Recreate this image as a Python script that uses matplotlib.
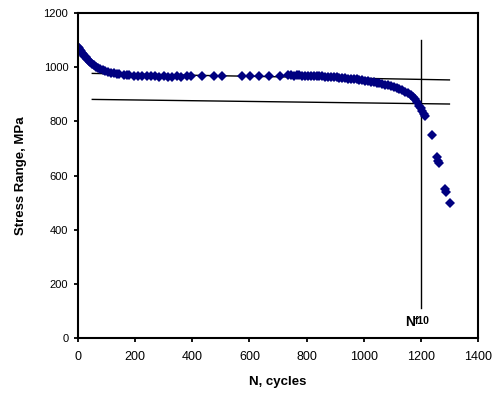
import numpy as np
import matplotlib
matplotlib.use('Agg')
import matplotlib.pyplot as plt

plt.rcParams['font.family'] = ['Liberation Sans', 'DejaVu Sans']

# measured stress range vs cycles
cycles = [0, 3, 6, 10, 14, 18, 22, 27, 32, 37, 43, 49, 55, 62, 70, 78, 86, 95,
          105, 115, 125, 135, 145, 160, 170, 180, 195, 210, 225, 240, 255, 270,
          285, 300, 315, 330, 345, 360, 380, 395, 433, 476, 503, 573, 602, 634,
          668, 707, 735, 745, 755, 765, 775, 785, 795, 805, 815, 825, 835, 845,
          855, 865, 875, 885, 895, 905, 915, 925, 935, 945, 955, 965, 975, 985,
          995, 1005, 1015, 1025, 1035, 1045, 1055, 1065, 1075, 1085, 1095, 1105,
          1115, 1125, 1135, 1145, 1155, 1165, 1172, 1180, 1188, 1195, 1200, 1205,
          1210, 1215, 1238, 1256, 1259, 1262, 1286, 1289, 1302]
stress = [1075, 1070, 1065, 1060, 1052, 1047, 1042, 1036, 1030, 1024, 1018, 1012,
          1007, 1002, 997, 993, 990, 986, 983, 980, 977, 975, 973, 971, 972, 970,
          969, 968, 968, 967, 966, 966, 965, 966, 965, 964, 966, 965, 967, 966,
          966, 966, 967, 967, 967, 968, 968, 969, 970, 970, 969, 970, 970, 969,
          968, 969, 968, 968, 967, 966, 966, 965, 964, 964, 963, 962, 961, 960,
          960, 958, 957, 956, 955, 953, 952, 950, 948, 946, 945, 943, 941, 939,
          936, 933, 930, 927, 923, 919, 914, 908, 903, 897, 890, 882, 870, 858,
          848, 838, 828, 820, 748, 668, 655, 645, 550, 540, 497]

# reference lines
upper_x = [50, 1300]
upper_y = [977, 953]
lower_x = [50, 1300]
lower_y = [881, 864]
nf10_x = [1200, 1200]
nf10_y = [110, 1100]

fig = plt.figure(figsize=(5, 3.97), dpi=100)
ax = fig.add_axes([0.156, 0.1486, 0.80, 0.8186])

ax.plot(upper_x, upper_y, color='black', lw=1.0, zorder=1)
ax.plot(lower_x, lower_y, color='black', lw=1.0, zorder=1)
ax.plot(nf10_x, nf10_y, color='black', lw=1.0, zorder=1)
ax.plot(cycles, stress, 'D', color='#000080', markersize=5.5, markeredgewidth=0, zorder=2)

ax.text(1145, 58, 'N', fontsize=10, fontweight='bold', va='center', ha='left')
ax.text(1180, 64, 'f10', fontsize=7.5, fontweight='bold', va='center', ha='left')

ax.set_xlim(0, 1400)
ax.set_ylim(0, 1200)
ax.set_xticks(range(0, 1401, 200))
ax.set_yticks(range(0, 1201, 200))
ax.tick_params(direction='out', length=3, width=1.3)
ax.tick_params(axis='x', labelsize=9, pad=6)
ax.tick_params(axis='y', labelsize=8, pad=4)
for s in ax.spines.values():
    s.set_linewidth(1.5)

ax.set_xlabel('N, cycles', fontsize=9.5, fontweight='bold', labelpad=10)
ax.set_ylabel('Stress Range, MPa', fontsize=9.5, fontweight='bold', labelpad=12)

fig.savefig('out.png', dpi=100)
